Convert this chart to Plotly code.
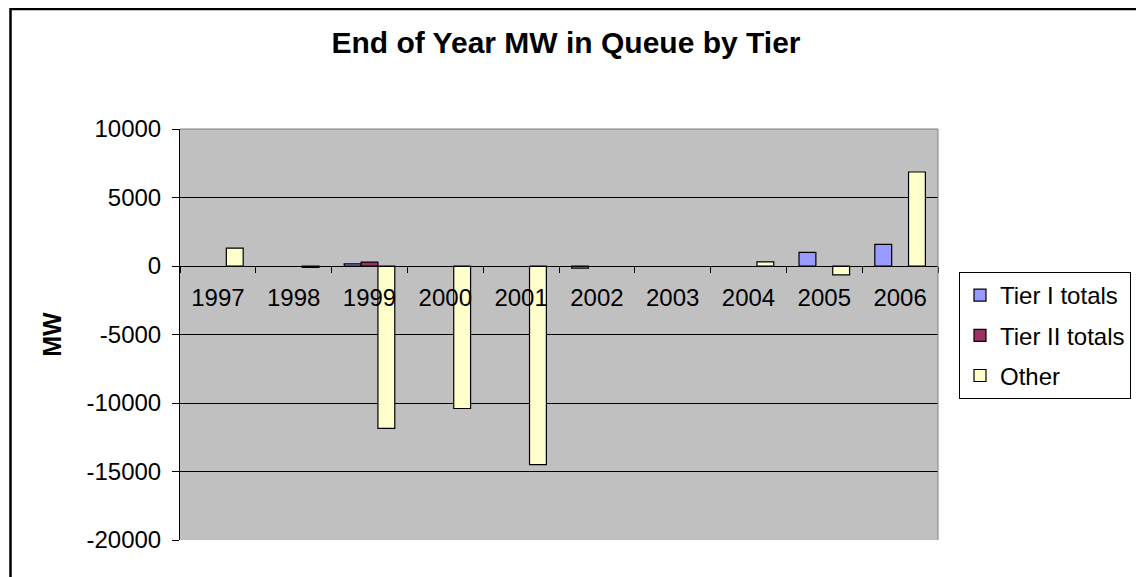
import plotly.graph_objects as go

years = ["1997", "1998", "1999", "2000", "2001", "2002", "2003", "2004", "2005", "2006"]
tier1 = [None, None, 150, None, None, -150, None, None, 1000, 1580]
tier2 = [None, None, 290, None, None, None, None, None, None, None]
other = [1300, -100, -11850, -10400, -14500, None, None, 300, -650, 6860]

series_names = ["Tier I totals", "Tier II totals", "Other"]
series_colors = ["#9999FF", "#993366", "#FFFFCC"]
y_tickvals = [10000, 5000, 0, -5000, -10000, -15000, -20000]
y_ticktext = ["10000", "5000", "0", "-5000", "-10000", "-15000", "-20000"]

FONT = "Arial, Liberation Sans, sans-serif"

fig = go.Figure()
for i, (name, vals, col) in enumerate(zip(series_names, [tier1, tier2, other], series_colors)):
    fig.add_trace(go.Bar(
        x=years, y=vals, name=name, legendgroup=name,
        marker=dict(color=col, line=dict(color="black", width=1.2)),
    ))

OFF = 8  # page offset of the figure
W, H = 1144 - OFF, 577 - OFF
L = 180 - OFF
T = 129 - OFF
R = W - (938 - OFF)
B = H - (540 - OFF)
pw = W - L - R
ph = H - T - B

def px_x(p):
    return (p - OFF - L) / pw

def px_y(p):
    return (H - B - (p - OFF)) / ph

fig.update_layout(
    width=W, height=H,
    margin=dict(l=L, r=R, t=T, b=B),
    paper_bgcolor="white",
    plot_bgcolor="#C0C0C0",
    barmode="group",
    bargap=0.333,
    bargroupgap=0,
    font=dict(family=FONT, size=24, color="black"),
    title=dict(
        text="<b>End of Year MW in Queue by Tier</b>",
        font=dict(family=FONT, size=30, color="black"),
        x=(566 - OFF) / W, xanchor="center",
        y=1 - (42 - OFF) / H, yanchor="middle",
    ),
    xaxis=dict(
        type="category",
        anchor="free",
        position=2 / 3,
        showline=True, linecolor="black", linewidth=1,
        ticks="outside", ticklen=6, tickcolor="black", tickwidth=1,
        tickson="boundaries",
        ticklabelstandoff=10,
        showgrid=False,
        tickfont=dict(family=FONT, size=24, color="black"),
    ),
    yaxis=dict(
        range=[-20000, 10000],
        domain=[0, 1],
        tickvals=y_tickvals, ticktext=y_ticktext,
        showline=True, linecolor="black", linewidth=1,
        ticks="outside", ticklen=7, tickcolor="black",
        ticklabelstandoff=6,
        showgrid=True, gridcolor="black", gridwidth=1,
        zeroline=False,
        tickfont=dict(family=FONT, size=24, color="black"),
        title=dict(text="<b>MW</b>", font=dict(family=FONT, size=25, color="black"), standoff=17),
    ),
    legend=dict(
        x=px_x(959), y=px_y(272), xanchor="left", yanchor="top",
        bgcolor="white", bordercolor="black", borderwidth=1,
        font=dict(family=FONT, size=24, color="black"),
        tracegroupgap=6,
        traceorder="grouped",
    ),
    showlegend=True,
)

shapes = [
    # plot area top and right edges
    dict(type="line", xref="paper", yref="paper", x0=0, x1=1, y0=1, y1=1,
         line=dict(color="#808080", width=1)),
    dict(type="line", xref="paper", yref="paper", x0=1, x1=1, y0=0, y1=1,
         line=dict(color="#808080", width=1)),
    # outer chart border
    dict(type="rect", xref="paper", yref="paper",
         x0=px_x(10.5), x1=px_x(1140), y0=px_y(640), y1=px_y(9),
         line=dict(color="black", width=2.5), fillcolor="rgba(0,0,0,0)"),
]
fig.update_layout(shapes=shapes)

fig.write_html("out.html")
